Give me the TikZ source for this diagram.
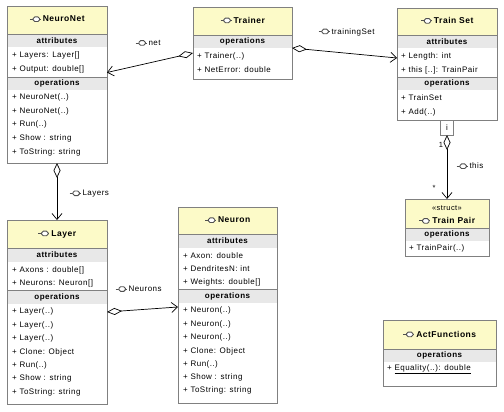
\documentclass[tikz,border=0pt]{standalone}
\usepackage{fontspec}
\setmainfont{Liberation Sans}[LetterSpace=6]
\usetikzlibrary{arrows.meta}
\definecolor{headfill}{HTML}{FCFAC8}
\definecolor{bandfill}{HTML}{E8E8E8}
\definecolor{bordergray}{HTML}{808080}
\definecolor{icongray}{HTML}{505050}
\newcommand\icn{\begin{tikzpicture}[x=1pt,y=1pt,baseline=-2.6pt,line width=0.9pt]
\draw[icongray] (-6.5,0) -- (-3.2,0);
\draw[icongray,fill=white,rounded corners=1.6pt] (-3.2,-2.3) rectangle (3.2,2.3);
\draw[icongray] (3.2,0) -- (4.6,0);
\end{tikzpicture}}
\begin{document}
\begin{tikzpicture}[x=1pt,y=-1pt,
  classbox/.style={draw=bordergray, line width=0.8pt, inner sep=0pt, outer sep=0pt, anchor=north west},
  sepline/.style={draw=bordergray, line width=0.8pt},
  item/.style={anchor=west, inner sep=0pt, font=\fontsize{8}{9}\selectfont},
  bandtxt/.style={inner sep=0pt, font=\fontsize{8}{9}\selectfont\bfseries},
  titletxt/.style={inner sep=0pt, font=\fontsize{8.5}{10}\selectfont\bfseries},
  assoc/.style={draw=black, line width=0.7pt},
  agg/.style={assoc, {Diamond[open,length=15pt,width=7pt]}-{Straight Barb[length=6pt,width=10pt]}},
  lbl/.style={inner sep=0pt, anchor=west, font=\fontsize{8}{9}\selectfont},
  small/.style={inner sep=0pt, font=\fontsize{7.5}{8}\selectfont}]
\useasboundingbox[fill=white] (0,0) rectangle (504,412);

% ---------- NeuroNet ----------
\fill[headfill] (7,6) rectangle (107,34);
\fill[bandfill] (7,34) rectangle (107,47);
\fill[bandfill] (7,77) rectangle (107,90);
\draw[sepline] (7,34) -- (107,34) (7,77) -- (107,77);
\node[classbox, minimum width=100pt, minimum height=157pt] (neuronet) at (7,6) {};
\node[titletxt] (nnT) at (57,19) {\icn\,NeuroNet};
\node[bandtxt] (nnA) at (57,40.5) {attributes};
\node[item] (nn1) at (12,55) {+ Layers: Layer[]};
\node[item] (nn2) at (12,69) {+ Output: double[]};
\node[bandtxt] (nnO) at (57,83.5) {operations};
\node[item] (nn3) at (12,97) {+ NeuroNet(..)};
\node[item] (nn4) at (12,111) {+ NeuroNet(..)};
\node[item] (nn5) at (12,124.5) {+ Run(..)};
\node[item] (nn6) at (12,138) {+ Show : string};
\node[item] (nn7) at (12,152) {+ ToString: string};

% ---------- Trainer ----------
\fill[headfill] (193,7) rectangle (292,35);
\fill[bandfill] (193,35) rectangle (292,48);
\draw[sepline] (193,35) -- (292,35);
\node[classbox, minimum width=99pt, minimum height=72pt] (trainer) at (193,7) {};
\node[titletxt] (trT) at (242.5,20) {\icn\,Trainer};
\node[bandtxt] (trO) at (242.5,41.5) {operations};
\node[item] (tr1) at (197,56) {+ Trainer(..)};
\node[item] (tr2) at (197,70) {+ NetError: double};

% ---------- Train Set ----------
\fill[headfill] (397,8) rectangle (497,35);
\fill[bandfill] (397,35) rectangle (497,48);
\fill[bandfill] (397,77) rectangle (497,90);
\draw[sepline] (397,35) -- (497,35) (397,77) -- (497,77);
\node[classbox, minimum width=100pt, minimum height=112pt] (trainset) at (397,8) {};
\node[titletxt] (tsT) at (447,20.5) {\icn\,Train Set};
\node[bandtxt] (tsA) at (447,41.5) {attributes};
\node[item] (ts1) at (401,56) {+ Length: int};
\node[item] (ts2) at (401,70) {+ this [..]: TrainPair};
\node[bandtxt] (tsO) at (447,83.5) {operations};
\node[item] (ts3) at (401,98) {+ TrainSet};
\node[item] (ts4) at (401,112) {+ Add(..)};
\node[draw=bordergray, line width=0.8pt, fill=white, minimum width=13pt, minimum height=15pt, inner sep=0pt, outer sep=0pt, anchor=north, font=\fontsize{8}{9}\selectfont] (qual) at (trainset.south) {i};

% ---------- Train Pair ----------
\fill[headfill] (405,199) rectangle (489,228);
\fill[bandfill] (405,228) rectangle (489,241);
\draw[sepline] (405,228) -- (489,228);
\node[classbox, minimum width=84pt, minimum height=57pt] (trainpair) at (405,199) {};
\node[small] (tpS) at (447,208) {«struct»};
\node[titletxt] (tpT) at (447,220.5) {\icn\,Train Pair};
\node[bandtxt] (tpO) at (447,234.5) {operations};
\node[item] (tp1) at (409,248) {+ TrainPair(..)};

% ---------- Layer ----------
\fill[headfill] (7,220) rectangle (107,248);
\fill[bandfill] (7,248) rectangle (107,262);
\fill[bandfill] (7,290) rectangle (107,304);
\draw[sepline] (7,248) -- (107,248) (7,290) -- (107,290);
\node[classbox, minimum width=100pt, minimum height=184pt] (layer) at (7,220) {};
\node[titletxt] (lyT) at (57,234) {\icn\,Layer};
\node[bandtxt] (lyA) at (57,255) {attributes};
\node[item] (ly1) at (12,270) {+ Axons : double[]};
\node[item] (ly2) at (12,283) {+ Neurons: Neuron[]};
\node[bandtxt] (lyO) at (57,297) {operations};
\node[item] (ly3) at (12,311) {+ Layer(..)};
\node[item] (ly4) at (12,325) {+ Layer(..)};
\node[item] (ly5) at (12,338) {+ Layer(..)};
\node[item] (ly6) at (12,352) {+ Clone: Object};
\node[item] (ly7) at (12,365) {+ Run(..)};
\node[item] (ly8) at (12,378) {+ Show : string};
\node[item] (ly9) at (12,392) {+ ToString: string};

% ---------- Neuron ----------
\fill[headfill] (178,207) rectangle (277,234);
\fill[bandfill] (178,234) rectangle (277,248);
\fill[bandfill] (178,289) rectangle (277,303);
\draw[sepline] (178,234) -- (277,234) (178,289) -- (277,289);
\node[classbox, minimum width=99pt, minimum height=196pt] (neuron) at (178,207) {};
\node[titletxt] (neT) at (227.5,220) {\icn\,Neuron};
\node[bandtxt] (neA) at (227.5,241) {attributes};
\node[item] (ne1) at (183,256) {+ Axon: double};
\node[item] (ne2) at (183,269) {+ DendritesN: int};
\node[item] (ne3) at (183,282) {+ Weights: double[]};
\node[bandtxt] (neO) at (227.5,296) {operations};
\node[item] (ne4) at (183,310) {+ Neuron(..)};
\node[item] (ne5) at (183,324) {+ Neuron(..)};
\node[item] (ne6) at (183,337) {+ Neuron(..)};
\node[item] (ne7) at (183,351) {+ Clone: Object};
\node[item] (ne8) at (183,364) {+ Run(..)};
\node[item] (ne9) at (183,377) {+ Show : string};
\node[item] (ne10) at (183,390) {+ ToString: string};

% ---------- ActFunctions ----------
\fill[headfill] (383,320) rectangle (496,349);
\fill[bandfill] (383,349) rectangle (496,362);
\draw[sepline] (383,349) -- (496,349);
\node[classbox, minimum width=113pt, minimum height=66pt] (actf) at (383,320) {};
\node[titletxt] (afT) at (439.5,334) {\icn\,ActFunctions};
\node[bandtxt] (afO) at (439.5,355.5) {operations};
\node[item] (af1) at (387,369) {+ \underline{Equality(..): double}};

% ---------- connectors ----------
\draw[agg] ([yshift=-10pt]trainer.west) -- ([yshift=12pt]neuronet.east);
\draw[agg] ([yshift=-5pt]trainer.east) -- ([yshift=6pt]trainset.west);
\draw[agg] (neuronet.south) -- (layer.north);
\draw[agg] (layer.east) -- ([yshift=-2pt]neuron.west);
\draw[agg] (qual.south) -- (trainpair.north);

% ---------- labels ----------
\node[lbl] (lnet) at (135,43) {\icn\,net};
\node[lbl] (lts) at (318,32) {\icn\,trainingSet};
\node[lbl] (llay) at (69,194) {\icn\,Layers};
\node[lbl] (lneu) at (115,289) {\icn\,Neurons};
\node[lbl] (lthis) at (456,166) {\icn\,this};
\node[small] (mone) at (441,145) {1};
\node[small] (mstar) at (434,188) {*};
\end{tikzpicture}
\end{document}
